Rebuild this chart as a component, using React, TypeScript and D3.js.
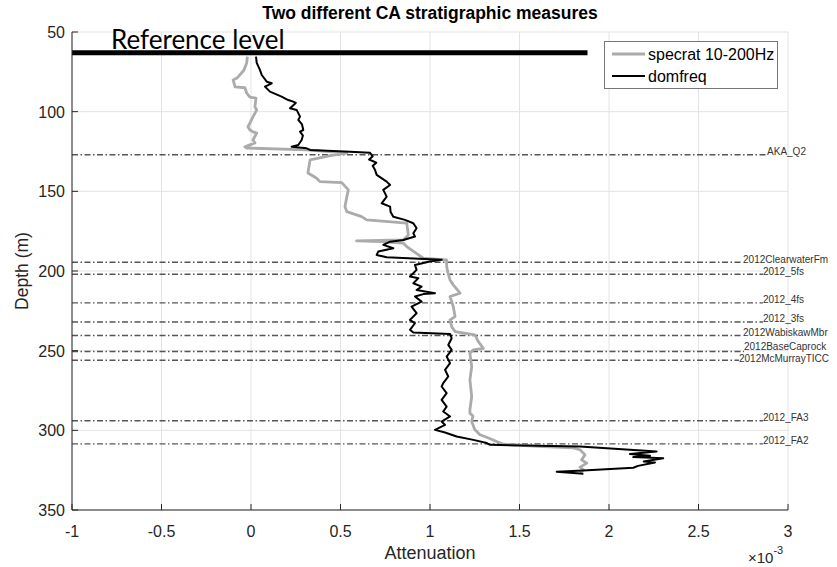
import React from 'react';
import * as d3 from 'd3';

// depth (m), attenuation (x10^-3)
const specrat: [number, number][] = [
  [65.5, -0.02], [69.4, -0.024], [74, -0.04], [78.9, -0.078], [80.1, -0.1], [82, -0.095],
  [84.5, -0.089], [85, -0.034], [88.3, -0.024], [90.8, -0.006], [91.5, 0.028], [97, 0.022],
  [98.9, 0.032], [103.3, 0.011], [109.6, -0.017], [111.5, -0.006], [112.7, 0.011], [113.4, 0.032],
  [117.8, 0.011], [119.6, 0.022], [122.1, -0.034], [122.8, -0.024], [124, 0.311], [126, 0.535],
  [127.5, 0.45], [130.3, 0.33], [138.5, 0.318], [141.8, 0.367], [143.9, 0.385], [144.5, 0.507],
  [149.1, 0.544], [153.5, 0.535], [159.6, 0.525], [162.7, 0.535], [165.9, 0.618], [167.9, 0.646],
  [170, 0.87], [174, 0.875], [177.4, 0.879], [180.5, 0.851], [181.1, 0.59], [181.6, 0.73],
  [182.5, 0.85], [184.7, 0.87], [192, 0.963], [193, 1.093], [197.2, 1.093], [201, 1.1],
  [205.6, 1.112], [208.7, 1.13], [213.9, 1.168], [216, 1.112], [222.3, 1.13], [228.6, 1.14],
  [230.7, 1.112], [234.9, 1.121], [238, 1.14], [240.1, 1.251], [244.3, 1.27], [248.5, 1.298],
  [249.5, 1.242], [251.6, 1.223], [256, 1.228], [260, 1.233], [268.3, 1.223], [278.8, 1.233],
  [287.1, 1.223], [289.2, 1.223], [291, 1.24], [294.5, 1.233], [299.5, 1.25], [302.8, 1.279],
  [305, 1.33], [307, 1.372], [308.7, 1.41], [310, 1.6], [311, 1.8], [312.2, 1.838],
  [315.4, 1.866], [318.5, 1.847], [320.6, 1.876], [323.1, 1.838], [324.8, 1.857], [326.5, 1.838],
];

const domfreq: [number, number][] = [
  [65.5, 0.028], [69.4, 0.032], [73.8, 0.05], [77, 0.06], [81.2, 0.088], [82.2, 0.116],
  [84.3, 0.078], [87.4, 0.106], [90.6, 0.171], [92.7, 0.208], [93.7, 0.236], [94.5, 0.25],
  [97.9, 0.218], [98.9, 0.255], [103.1, 0.274], [105.2, 0.264], [108, 0.285], [111.5, 0.292],
  [112.5, 0.274], [115, 0.29], [117.8, 0.283], [120.9, 0.264], [122, 0.227], [123, 0.311],
  [124, 0.33], [125.1, 0.553], [125.8, 0.665], [128, 0.68], [130, 0.66], [132, 0.7], [134, 0.68],
  [136.6, 0.693], [139.7, 0.702], [143.9, 0.758], [146, 0.777], [149.1, 0.739], [153.3, 0.758],
  [157.5, 0.73], [159.6, 0.777], [163, 0.78], [165.9, 0.795], [167.9, 0.86], [170, 0.907],
  [173.2, 0.925], [176.3, 0.907], [178.4, 0.916], [180.5, 0.851], [181.6, 0.777], [183.6, 0.739],
  [185.7, 0.795], [187.8, 0.711], [189.9, 0.702], [191.4, 0.758], [192.6, 0.999], [193, 1.065],
  [194.1, 0.999], [196.2, 0.916], [199.3, 0.925], [203.5, 0.888], [204.5, 0.935], [207.7, 0.907],
  [209.8, 0.953], [211.9, 0.925], [213.9, 1.028], [214.5, 0.963], [216, 0.916], [219.2, 0.953],
  [222.3, 0.897], [226.5, 0.925], [230.7, 0.888], [232.8, 0.916], [236.9, 0.888], [238.6, 0.907],
  [239.5, 1.112], [242.2, 1.121], [246.4, 1.102], [249.5, 1.121], [253.7, 1.093], [257.8, 1.112],
  [262, 1.084], [266.2, 1.102], [270.4, 1.074], [272.5, 1.065], [276.7, 1.093], [280.9, 1.065],
  [285.1, 1.093], [288.2, 1.074], [291.3, 1.112], [294.5, 1.065], [296.6, 1.084], [299.7, 1.028],
  [301.4, 1.084], [303.9, 1.149], [306, 1.242], [308, 1.317], [309.1, 1.335], [310.2, 1.838],
  [313.3, 2.266], [314.8, 2.117], [316, 2.229], [316.8, 2.136], [317.5, 2.303], [319.6, 2.194],
  [320.2, 2.257], [322.3, 2.162], [323.5, 2.136], [325.2, 1.855], [326, 1.708], [327.3, 1.857],
];

const topNames = [
  'AKA_Q2', '2012ClearwaterFm', '2012_5fs', '2012_4fs', '2012_3fs', '2012WabiskawMbr',
  '2012BaseCaprock', '2012McMurrayTICC', '2012_FA3', '2012_FA2',
];
const topDepths = [127, 194.5, 202, 220, 232, 240.5, 250.5, 256, 294, 308.5];
// attenuation value where each label text starts
const topLabelX = [2.883, 2.749, 2.86, 2.86, 2.86, 2.749, 2.754, 2.726, 2.86, 2.86];

const referenceDepth = 63;
const referenceEnd = 1.88;

const xTicks = [-1, -0.5, 0, 0.5, 1, 1.5, 2, 2.5, 3];
const yTicks = [50, 100, 150, 200, 250, 300, 350];

const W = 837;
const H = 567;
const font = '"Liberation Sans", Arial, sans-serif';

export default function App() {
  const x = d3.scaleLinear().domain([-1, 3]).range([72, 788]);
  const y = d3.scaleLinear().domain([50, 350]).range([32, 510]);

  const line = d3
    .line<[number, number]>()
    .x((d) => x(d[1]))
    .y((d) => y(d[0]));

  // nudge the two crowded labels apart a little
  const labelDy = (name: string) =>
    name === '2012BaseCaprock' ? -1 : name === '2012McMurrayTICC' ? 2.2 : 0.5;

  return (
    <div style={{ position: 'absolute', left: 0, top: 0 }}>
      <svg width={W} height={H} style={{ display: 'block', background: '#fff' }}>
        {/* grid */}
        {xTicks.map((t) => (
          <line key={'gx' + t} x1={x(t)} x2={x(t)} y1={y(50)} y2={y(350)} stroke="#e3e3e3" strokeWidth={1} />
        ))}
        {yTicks.map((t) => (
          <line key={'gy' + t} x1={x(-1)} x2={x(3)} y1={y(t)} y2={y(t)} stroke="#e3e3e3" strokeWidth={1} />
        ))}

        {/* formation tops */}
        {topNames.map((name, i) => (
          <g key={name}>
            <line
              x1={x(-1)}
              x2={x(topLabelX[i])}
              y1={y(topDepths[i])}
              y2={y(topDepths[i])}
              stroke="#555"
              strokeWidth={1.4}
              strokeDasharray="6,2.5,1.5,2.5"
            />
            <text x={x(topLabelX[i])} y={y(topDepths[i]) + labelDy(name)} fontFamily={font} fontSize={10} fill="#333">
              {name}
            </text>
          </g>
        ))}

        {/* reference level */}
        <line x1={x(-1)} x2={x(referenceEnd)} y1={y(referenceDepth)} y2={y(referenceDepth)} stroke="#000" strokeWidth={5} />
        <text x={111} y={49} fontFamily="Lato, 'Open Sans', sans-serif" fontSize={26} fill="#000">
          Reference level
        </text>

        {/* curves */}
        <path d={line(specrat) || ''} fill="none" stroke="#ababab" strokeWidth={2.8} strokeLinejoin="round" />
        <path d={line(domfreq) || ''} fill="none" stroke="#000" strokeWidth={2} strokeLinejoin="round" />

        {/* axes */}
        <line x1={x(-1)} x2={x(3)} y1={y(350)} y2={y(350)} stroke="#262626" strokeWidth={1} />
        <line x1={x(-1)} x2={x(-1)} y1={y(50)} y2={y(350)} stroke="#262626" strokeWidth={1} />
        {xTicks.map((t) => (
          <g key={'tx' + t}>
            <line x1={x(t)} x2={x(t)} y1={y(350)} y2={y(350) - 6} stroke="#262626" />
            <text x={x(t)} y={537} textAnchor="middle" fontFamily={font} fontSize={16} fill="#262626">
              {t}
            </text>
          </g>
        ))}
        {yTicks.map((t) => (
          <g key={'ty' + t}>
            <line x1={x(-1)} x2={x(-1) + 6} y1={y(t)} y2={y(t)} stroke="#262626" />
            <text x={65} y={y(t) + 6} textAnchor="end" fontFamily={font} fontSize={16} fill="#262626">
              {t}
            </text>
          </g>
        ))}

        {/* labels */}
        <text x={430} y={19} textAnchor="middle" fontFamily={font} fontSize={17.5} fontWeight="bold" fill="#000">
          Two different CA stratigraphic measures
        </text>
        <text
          transform={`translate(28,${(y(50) + y(350)) / 2}) rotate(-90)`}
          textAnchor="middle"
          fontFamily={font}
          fontSize={17.5}
          fill="#262626"
        >
          Depth (m)
        </text>
        <text x={430} y={559} textAnchor="middle" fontFamily={font} fontSize={18} fill="#262626">
          Attenuation
        </text>
        <text x={748} y={563} fontFamily={font} fontSize={15} fill="#262626">
          ×10
          <tspan dy={-9} fontSize={11}>-3</tspan>
        </text>

        {/* legend */}
        <rect x={604.5} y={41.5} width={173} height={47} fill="#fff" stroke="#777" strokeWidth={1} />
        <line x1={612} x2={645} y1={54} y2={54} stroke="#ababab" strokeWidth={2.8} />
        <line x1={612} x2={645} y1={76} y2={76} stroke="#000" strokeWidth={2} />
        <text x={648} y={59.5} fontFamily={font} fontSize={16} fill="#000">specrat 10-200Hz</text>
        <text x={648} y={81.5} fontFamily={font} fontSize={16} fill="#000">domfreq</text>
      </svg>
    </div>
  );
}
